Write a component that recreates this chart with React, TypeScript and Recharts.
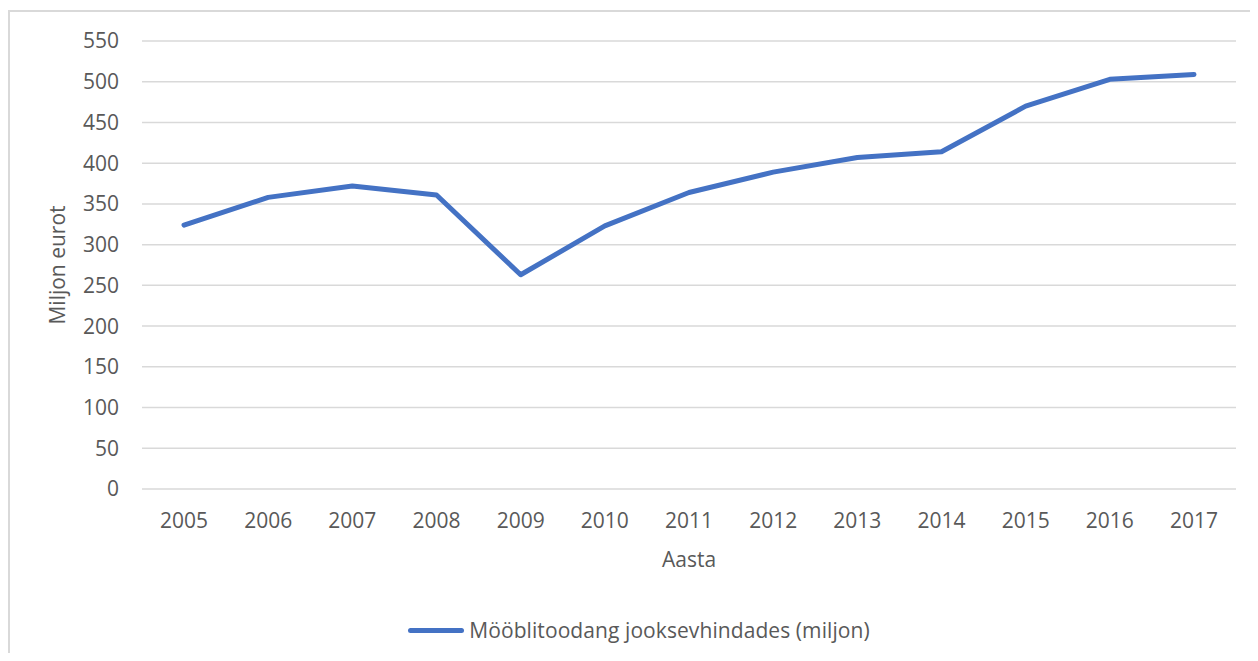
import { LineChart, Line, XAxis, YAxis, CartesianGrid, Legend } from 'recharts';

// ─── Data ─────────────────────────────────────────────────────────────────────

const years = ['2005', '2006', '2007', '2008', '2009', '2010', '2011', '2012', '2013', '2014', '2015', '2016', '2017'];
const production = [324, 358, 372, 361, 263, 323, 364, 389, 407, 414, 470, 503, 509];
const yTicks = [0, 50, 100, 150, 200, 250, 300, 350, 400, 450, 500, 550];

const seriesName = 'Mööblitoodang jooksevhindades (miljon)';

const chartData = years.map((year, i) => ({ year, value: production[i] }));

// ─── Styles ───────────────────────────────────────────────────────────────────

const FONT = '"Open Sans", "Liberation Sans", sans-serif';
const TEXT = '#595959';
const LINE = '#4472C4';
const GRID = '#d9d9d9';

const tickStyle = { fontSize: 21, fill: TEXT, fontFamily: FONT };

function YTitle(props: any) {
  const vb = props.viewBox || { x: 0, y: 33, height: 448 };
  const cx = vb.x + 49;
  const cy = vb.y + vb.height / 2;
  return (
    <text
      x={cx}
      y={cy}
      transform={`rotate(-90 ${cx} ${cy})`}
      textAnchor="middle"
      dominantBaseline="central"
      fontSize={21}
      fontFamily={FONT}
      fill={TEXT}
    >
      Miljon eurot
    </text>
  );
}

function LegendRow() {
  return (
    <div
      style={{
        height: 86,
        boxSizing: 'border-box',
        paddingTop: 48,
        paddingLeft: 34,
        display: 'flex',
        justifyContent: 'center',
        fontFamily: FONT,
      }}
    >
      <div style={{ display: 'flex', alignItems: 'center', height: 30 }}>
        <span
          style={{
            display: 'inline-block',
            width: 56,
            height: 5,
            borderRadius: 3,
            background: LINE,
            marginRight: 5,
          }}
        />
        <span style={{ fontSize: 21, color: TEXT, letterSpacing: 0.08 }}>{seriesName}</span>
      </div>
    </div>
  );
}

export default function App() {
  return (
    <div style={{ position: 'relative', width: 1250, height: 653, marginBottom: -8, overflow: 'hidden' }}>
      <div
        style={{
          position: 'absolute',
          left: 0,
          top: 2,
          right: 0,
          bottom: 0,
          borderTop: `2px solid ${GRID}`,
          borderLeft: `2px solid ${GRID}`,
        }}
      />
      <div style={{ position: 'absolute', left: 0, top: 0 }}>
        <LineChart
          width={1250}
          height={645}
          data={chartData}
          margin={{ top: 33, right: 22, left: 0, bottom: 0 }}
        >
          <CartesianGrid vertical={false} stroke={GRID} strokeWidth={1.5} />
          <XAxis
            dataKey="year"
            height={78}
            axisLine={false}
            tickLine={false}
            tickSize={0}
            tickMargin={24}
            padding={{ left: 42, right: 42 }}
            tick={tickStyle}
            interval={0}
            label={{
              value: 'Aasta',
              position: 'insideBottom',
              offset: 0,
              fontSize: 21,
              fill: TEXT,
              fontFamily: FONT,
            }}
          />
          <YAxis
            width={134}
            domain={[0, 550]}
            ticks={yTicks}
            axisLine={false}
            tickLine={false}
            tickSize={0}
            tickMargin={23}
            tick={tickStyle}
            label={(p: any) => <YTitle {...p} />}
          />
          <Legend verticalAlign="bottom" content={() => <LegendRow />} />
          <Line
            type="linear"
            dataKey="value"
            name={seriesName}
            stroke={LINE}
            strokeWidth={5}
            strokeLinecap="round"
            strokeLinejoin="round"
            dot={false}
            activeDot={false}
            isAnimationActive={false}
          />
        </LineChart>
      </div>
    </div>
  );
}
